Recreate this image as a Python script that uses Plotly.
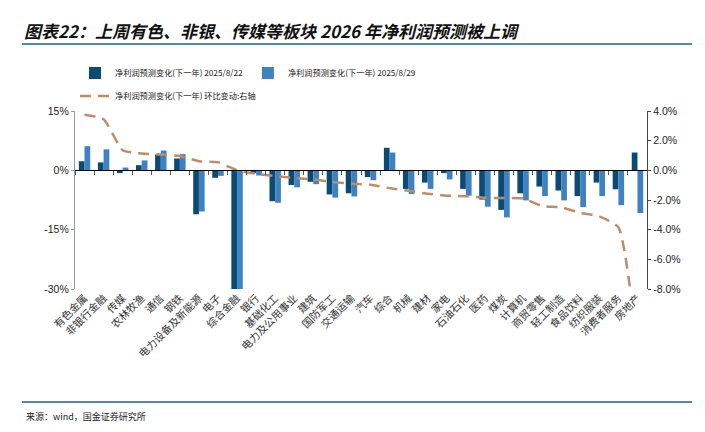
import plotly.graph_objects as go

categories = ["有色金属", "非银行金融", "传媒", "农林牧渔", "通信", "钢铁", "电力设备及新能源", "电子",
              "综合金融", "银行", "基础化工", "电力及公用事业", "建筑", "国防军工", "交通运输", "汽车",
              "综合", "机械", "建材", "家电", "石油石化", "医药", "煤炭", "计算机", "商贸零售",
              "轻工制造", "食品饮料", "纺织服装", "消费者服务", "房地产"]

chg_0822 = [2.3, 2.0, -0.7, 1.3, 4.0, 3.0, -11.1, -1.9, -31.0, -0.7, -7.8, -3.7, -2.9, -6.1, -5.8,
            -1.7, 5.7, -4.7, -3.1, -0.7, -4.7, -7.4, -10.0, -5.8, -4.1, -5.1, -6.5, -3.1, -4.8, 4.5]
chg_0829 = [6.1, 5.3, 0.7, 2.5, 5.0, 4.1, -10.4, -1.4, -31.0, -1.3, -8.2, -4.3, -3.5, -6.9, -6.6,
            -2.5, 4.5, -6.0, -4.7, -2.3, -6.4, -9.2, -11.9, -7.6, -6.5, -7.6, -9.3, -6.5, -8.8, -10.8]
wow_diff = [3.75, 3.45, 1.36, 1.13, 1.06, 0.97, 0.61, 0.54, 0.0, -0.23, -0.38, -0.52, -0.61, -0.79, -0.9,
            -0.97, -1.2, -1.38, -1.58, -1.71, -1.74, -1.85, -1.87, -1.9, -2.4, -2.49, -2.87, -3.1, -3.84, -12.0]

left_ticks = [15, 0, -15, -30]
left_labels = ["15%", "0%", "-15%", "-30%"]
right_ticks = [4, 2, 0, -2, -4, -6, -8]
right_labels = ["4.0%", "2.0%", "0.0%", "-2.0%", "-4.0%", "-6.0%", "-8.0%"]

name1 = "净利润预测变化(下一年) 2025/8/22"
name2 = "净利润预测变化(下一年) 2025/8/29"
name3 = "净利润预测变化(下一年) 环比变动:右轴"

DARK = "#0b4b71"
LIGHT = "#3f81c3"
TAN = "#bb8d6c"
CJK = "Noto Sans CJK SC"

# plot area in pixels: x 75..647, y 111..289
def py(pix):
    return (289 - pix) / 178

def px(pix):
    return (pix - 75) / 572

fig = go.Figure()
fig.add_trace(go.Bar(x=categories, y=chg_0822, name=name1, marker=dict(color=DARK, line_width=0),
                     legend="legend"))
fig.add_trace(go.Bar(x=categories, y=chg_0829, name=name2, marker=dict(color=LIGHT, line_width=0),
                     legend="legend"))
fig.add_trace(go.Scatter(x=categories, y=wow_diff, name=name3, yaxis="y2", mode="lines",
                         line=dict(color=TAN, width=2.5, dash="11px,7px", shape="spline", smoothing=0.5),
                         legend="legend2"))
# helper trace for the zero-level category axis with boundary ticks
fig.add_trace(go.Scatter(x=categories, y=[None] * len(categories), xaxis="x2", yaxis="y",
                         showlegend=False, hoverinfo="skip", mode="lines"))

fig.update_layout(
    width=705, height=432,
    margin=dict(l=75, r=58, t=111, b=143, autoexpand=False),
    plot_bgcolor="white", paper_bgcolor="white",
    hovermode=False,
    barmode="group", bargap=0.4, bargroupgap=0.0,
    font=dict(family="Liberation Sans, Arial", size=10, color="#222"),
    xaxis=dict(type="category", categoryarray=categories, range=[-0.5, 29.5],
               tickangle=-45, showline=False, ticks="", showgrid=False, automargin=False,
               tickfont=dict(family=CJK, size=10.5, color="#333")),
    xaxis2=dict(type="category", categoryarray=categories, range=[-0.5, 29.5],
                overlaying="x", anchor="free", position=30 / 45, showline=True,
                linecolor="#000", linewidth=1, ticks="outside", ticklen=4, tickcolor="#555",
                tickson="boundaries", showticklabels=False, showgrid=False),
    yaxis=dict(range=[-30, 15], tickmode="array", tickvals=left_ticks, ticktext=left_labels,
               showgrid=False, zeroline=False, showline=True, linecolor="#999", linewidth=1.2,
               ticks="outside", ticklen=3, tickcolor="#999", automargin=False,
               tickfont=dict(size=10.5, color="#222")),
    yaxis2=dict(range=[-8, 4], tickmode="array", tickvals=right_ticks, ticktext=right_labels,
                overlaying="y", side="right", showgrid=False, zeroline=False, automargin=False,
                showline=True, linecolor="#444", linewidth=1.2, ticks="outside",
                ticklen=3, tickcolor="#444", tickfont=dict(size=10.5, color="#222")),
    legend=dict(orientation="h", x=0.0, y=py(73), xanchor="left", yanchor="middle",
                font=dict(family=CJK, size=8.2, color="#222"), itemwidth=30,
                bgcolor="rgba(0,0,0,0)", traceorder="normal"),
    legend2=dict(orientation="h", x=0.0, y=py(96), xanchor="left", yanchor="middle",
                 font=dict(family=CJK, size=8.2, color="#222"), itemwidth=30,
                 bgcolor="rgba(0,0,0,0)"),
    showlegend=True,
)

# title, header rule, footer rule and source
fig.add_annotation(xref="paper", yref="paper", x=px(22), y=py(30), xanchor="left",
                   yanchor="middle", showarrow=False,
                   text="图表22：上周有色、非银、传媒等板块 2026 年净利润预测被上调",
                   font=dict(family=CJK, size=17, color="#111", weight="bold", style="italic"))
fig.add_shape(type="line", xref="paper", yref="paper", x0=px(22), x1=px(692),
              y0=py(44), y1=py(44), line=dict(color="#1f5f88", width=1.5))
fig.add_shape(type="line", xref="paper", yref="paper", x0=px(22), x1=px(692),
              y0=py(402), y1=py(402), line=dict(color="#1f5f88", width=1.5))
fig.add_annotation(xref="paper", yref="paper", x=px(24), y=py(416), xanchor="left",
                   yanchor="middle", showarrow=False, text="来源：wind，国金证券研究所",
                   font=dict(family=CJK, size=9, color="#222"))

fig.write_html("out.html", config={"responsive": False, "displayModeBar": False},
               post_script="document.body.style.margin='0';document.body.style.padding='0';")
